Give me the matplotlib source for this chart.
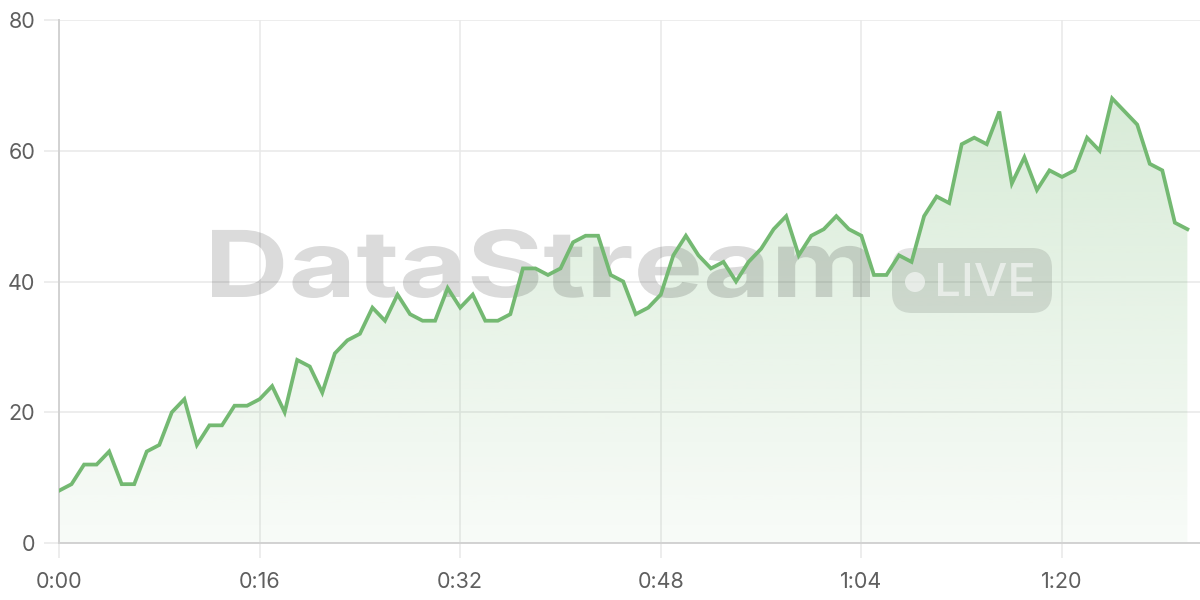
import matplotlib
matplotlib.use('Agg')
import matplotlib.pyplot as plt
import numpy as np
from matplotlib.patches import FancyBboxPatch, Circle, Polygon, PathPatch
from matplotlib.textpath import TextPath
from matplotlib.font_manager import FontProperties
from matplotlib.transforms import Affine2D

# Serie de datos (un punto por minuto)
minutes = list(range(91))
values = [8, 9, 12, 12, 14, 9, 9, 14, 15, 20,
          22, 15, 18, 18, 21, 21, 22, 24, 20, 28,
          27, 23, 29, 31, 32, 36, 34, 38, 35, 34,
          34, 39, 36, 38, 34, 34, 35, 42, 42, 41,
          42, 46, 47, 47, 41, 40, 35, 36, 38, 44,
          47, 44, 42, 43, 40, 43, 45, 48, 50, 44,
          47, 48, 50, 48, 47, 41, 41, 44, 43, 50,
          53, 52, 61, 62, 61, 66, 55, 59, 54, 57,
          56, 57, 62, 60, 68, 66, 64, 58, 57, 49,
          48]
x_ticks = [0, 16, 32, 48, 64, 80]
y_ticks = [0, 20, 40, 60, 80]

LINE = '#74b972'
GRID = '#e8e8e8'
AXIS = '#d2d2d2'
LABEL = '#5f5f5f'
W, H = 1200, 600

plt.rcParams['font.family'] = ['Inter', 'DejaVu Sans']

fig = plt.figure(figsize=(12, 6), dpi=100)
ax = fig.add_axes([59 / W, 57 / H, 1 - 59 / W, 523 / H])

x_max = (W - 59) / ((1062 - 59) / 80)
ax.set_xlim(0, x_max)
ax.set_ylim(0, 80)

# Relleno con degradado
grad = np.linspace(0.05, 0.28, 256).reshape(-1, 1)
rgba = np.zeros((256, 1, 4))
rgba[..., 0] = 0x74 / 255
rgba[..., 1] = 0xb9 / 255
rgba[..., 2] = 0x72 / 255
rgba[..., 3] = grad
img = ax.imshow(rgba, extent=[0, minutes[-1], 0, max(values)], origin='lower',
                aspect='auto', zorder=1)
verts = [(minutes[0], 0)] + list(zip(minutes, values)) + [(minutes[-1], 0)]
poly = Polygon(verts, closed=True, facecolor='none', edgecolor='none')
ax.add_patch(poly)
img.set_clip_path(poly)

ax.plot(minutes, values, color=LINE, linewidth=2.7, zorder=5,
        solid_joinstyle='miter')

# Rejilla y ejes
ax.set_xticks(x_ticks)
ax.set_yticks(y_ticks)
ax.set_xticklabels([f"{t // 60}:{t % 60:02d}" for t in x_ticks])
ax.grid(True, color=GRID, linewidth=1.1, zorder=0)
ax.set_axisbelow(True)
for side in ['top', 'right']:
    ax.spines[side].set_visible(False)
ax.spines['left'].set_color(AXIS)
ax.spines['bottom'].set_color(AXIS)
ax.spines['left'].set_linewidth(1.4)
ax.spines['bottom'].set_linewidth(1.4)
ax.tick_params(axis='both', length=11, width=1.1, color=GRID,
               labelsize=15.5, labelcolor=LABEL)
ax.tick_params(axis='y', pad=6)
ax.tick_params(axis='x', pad=10)


def add_px(artist):
    # artista en píxeles, dentro del eje, entre el relleno y la línea
    artist.set_clip_on(False)
    ax.add_artist(artist)


def text_in_box(s, x0, y0, x1, y1, weight, color, alpha):
    """Texto como trazado, ajustado a una caja en píxeles (y desde arriba)"""
    tp = TextPath((0, 0), s, size=100,
                  prop=FontProperties(family='Inter', weight=weight))
    bb = tp.get_extents()
    sx = (x1 - x0) / bb.width
    sy = (y1 - y0) / bb.height
    tr = Affine2D().translate(-bb.x0, -bb.y0).scale(sx, sy).translate(x0, H - y1)
    add_px(PathPatch(tr.transform_path(tp), transform=None, facecolor=color,
                     edgecolor='none', alpha=alpha, zorder=3))


# Marca de agua
text_in_box('DataStream', 212, 229, 870, 298, 'bold', 'black', 0.14)
add_px(FancyBboxPatch((892, H - 313), 160, 65,
                      boxstyle='round,pad=0,rounding_size=20',
                      transform=None, facecolor='black', alpha=0.11,
                      edgecolor='none', zorder=3))
add_px(Circle((915, H - 282), 10, transform=None, facecolor='white',
              alpha=0.55, edgecolor='none', zorder=3.5))
text_in_box('LIVE', 938, 263, 1033, 296, 'medium', 'white', 0.55)

fig.savefig('out.png', dpi=100)
